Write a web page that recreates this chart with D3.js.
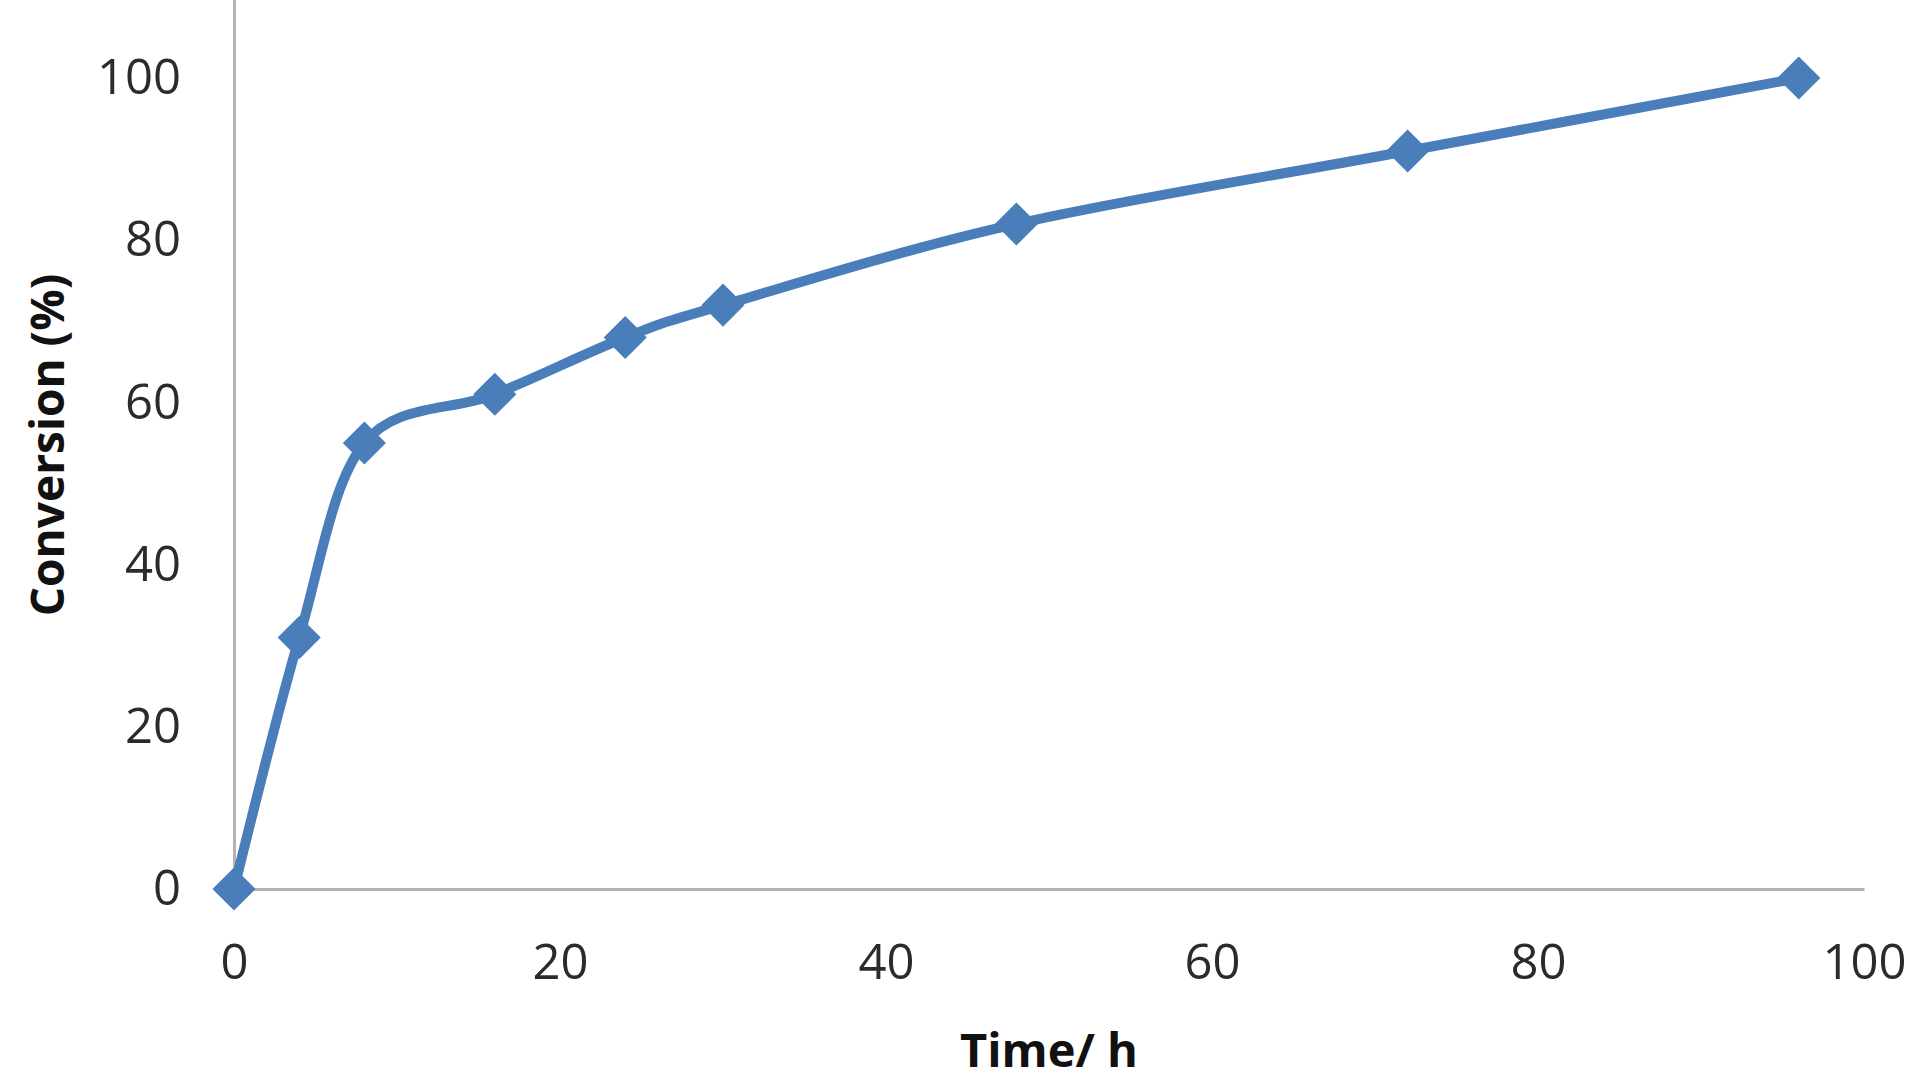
<!DOCTYPE html>
<html>
<head>
<meta charset="utf-8">
<script src="https://cdn.jsdelivr.net/npm/d3@7"></script>
<style>
  html, body { margin: 0; padding: 0; background: #ffffff; }
  svg { display: block; }
</style>
</head>
<body>
<svg id="chart" width="1915" height="1086"></svg>
<script>
// Data
const timeHours = [0, 4, 8, 16, 24, 30, 48, 72, 96];
const conversionPct = [0, 31, 55, 61, 68, 72, 82, 91, 100];
const xTickValues = [0, 20, 40, 60, 80, 100];
const yTickValues = [0, 20, 40, 60, 80, 100];
const xTitle = "Time/ h";
const yTitle = "Conversion (%)";

const svg = d3.select("#chart");
const left = 234, right = 1864, bottom = 889;
const pxPerUnit = 8.11;

const x = d3.scaleLinear().domain([0, 100]).range([left, right]);
const y = d3.scaleLinear().domain([0, 120]).range([bottom, bottom - 120 * pxPerUnit]);

const blue = "#4a7ebb";
const axisColor = "#b3b3b3";
const textColor = "#2b2b2b";
const font = "'Open Sans', 'Liberation Sans', sans-serif";

// Y axis
const yAxis = svg.append("g")
  .attr("transform", `translate(${left},0)`)
  .call(d3.axisLeft(y).tickValues(yTickValues).tickSize(0).tickPadding(53).tickFormat(d3.format("d")));
yAxis.select(".domain").attr("stroke", axisColor).attr("stroke-width", 3);
yAxis.selectAll(".tick text")
  .attr("fill", textColor)
  .style("font-family", font)
  .style("font-size", "49px");

// X axis
const xAxis = svg.append("g")
  .attr("transform", `translate(0,${bottom})`)
  .call(d3.axisBottom(x).tickValues(xTickValues).tickSize(0).tickPadding(55).tickFormat(d3.format("d")));
xAxis.select(".domain").attr("stroke", axisColor).attr("stroke-width", 3);
xAxis.selectAll(".tick text")
  .attr("fill", textColor)
  .style("font-family", font)
  .style("font-size", "49px");

// Axis titles
svg.append("text")
  .attr("x", (left + right) / 2)
  .attr("y", 1067)
  .attr("text-anchor", "middle")
  .attr("fill", "#111")
  .style("font-family", font)
  .style("font-weight", "bold")
  .style("font-size", "47px")
  .text(xTitle);

svg.append("text")
  .attr("transform", `translate(64,445) rotate(-90)`)
  .attr("text-anchor", "middle")
  .attr("fill", "#111")
  .style("font-family", font)
  .style("font-weight", "bold")
  .style("font-size", "46px")
  .text(yTitle);

// Series
const data = timeHours.map((t, i) => ({ t, v: conversionPct[i] }));

const line = d3.line()
  .x(d => x(d.t))
  .y(d => y(d.v))
  .curve(d3.curveCardinal.tension(0));

svg.append("path")
  .datum(data)
  .attr("d", line)
  .attr("fill", "none")
  .attr("stroke", blue)
  .attr("stroke-width", 10)
  .attr("stroke-linejoin", "round")
  .attr("stroke-linecap", "round");

const marker = d3.symbol().type(d3.symbolSquare).size(930);
svg.append("g").selectAll("path")
  .data(data)
  .join("path")
  .attr("d", marker)
  .attr("transform", d => `translate(${x(d.t)},${y(d.v)}) rotate(45)`)
  .attr("fill", blue);
</script>
</body>
</html>
